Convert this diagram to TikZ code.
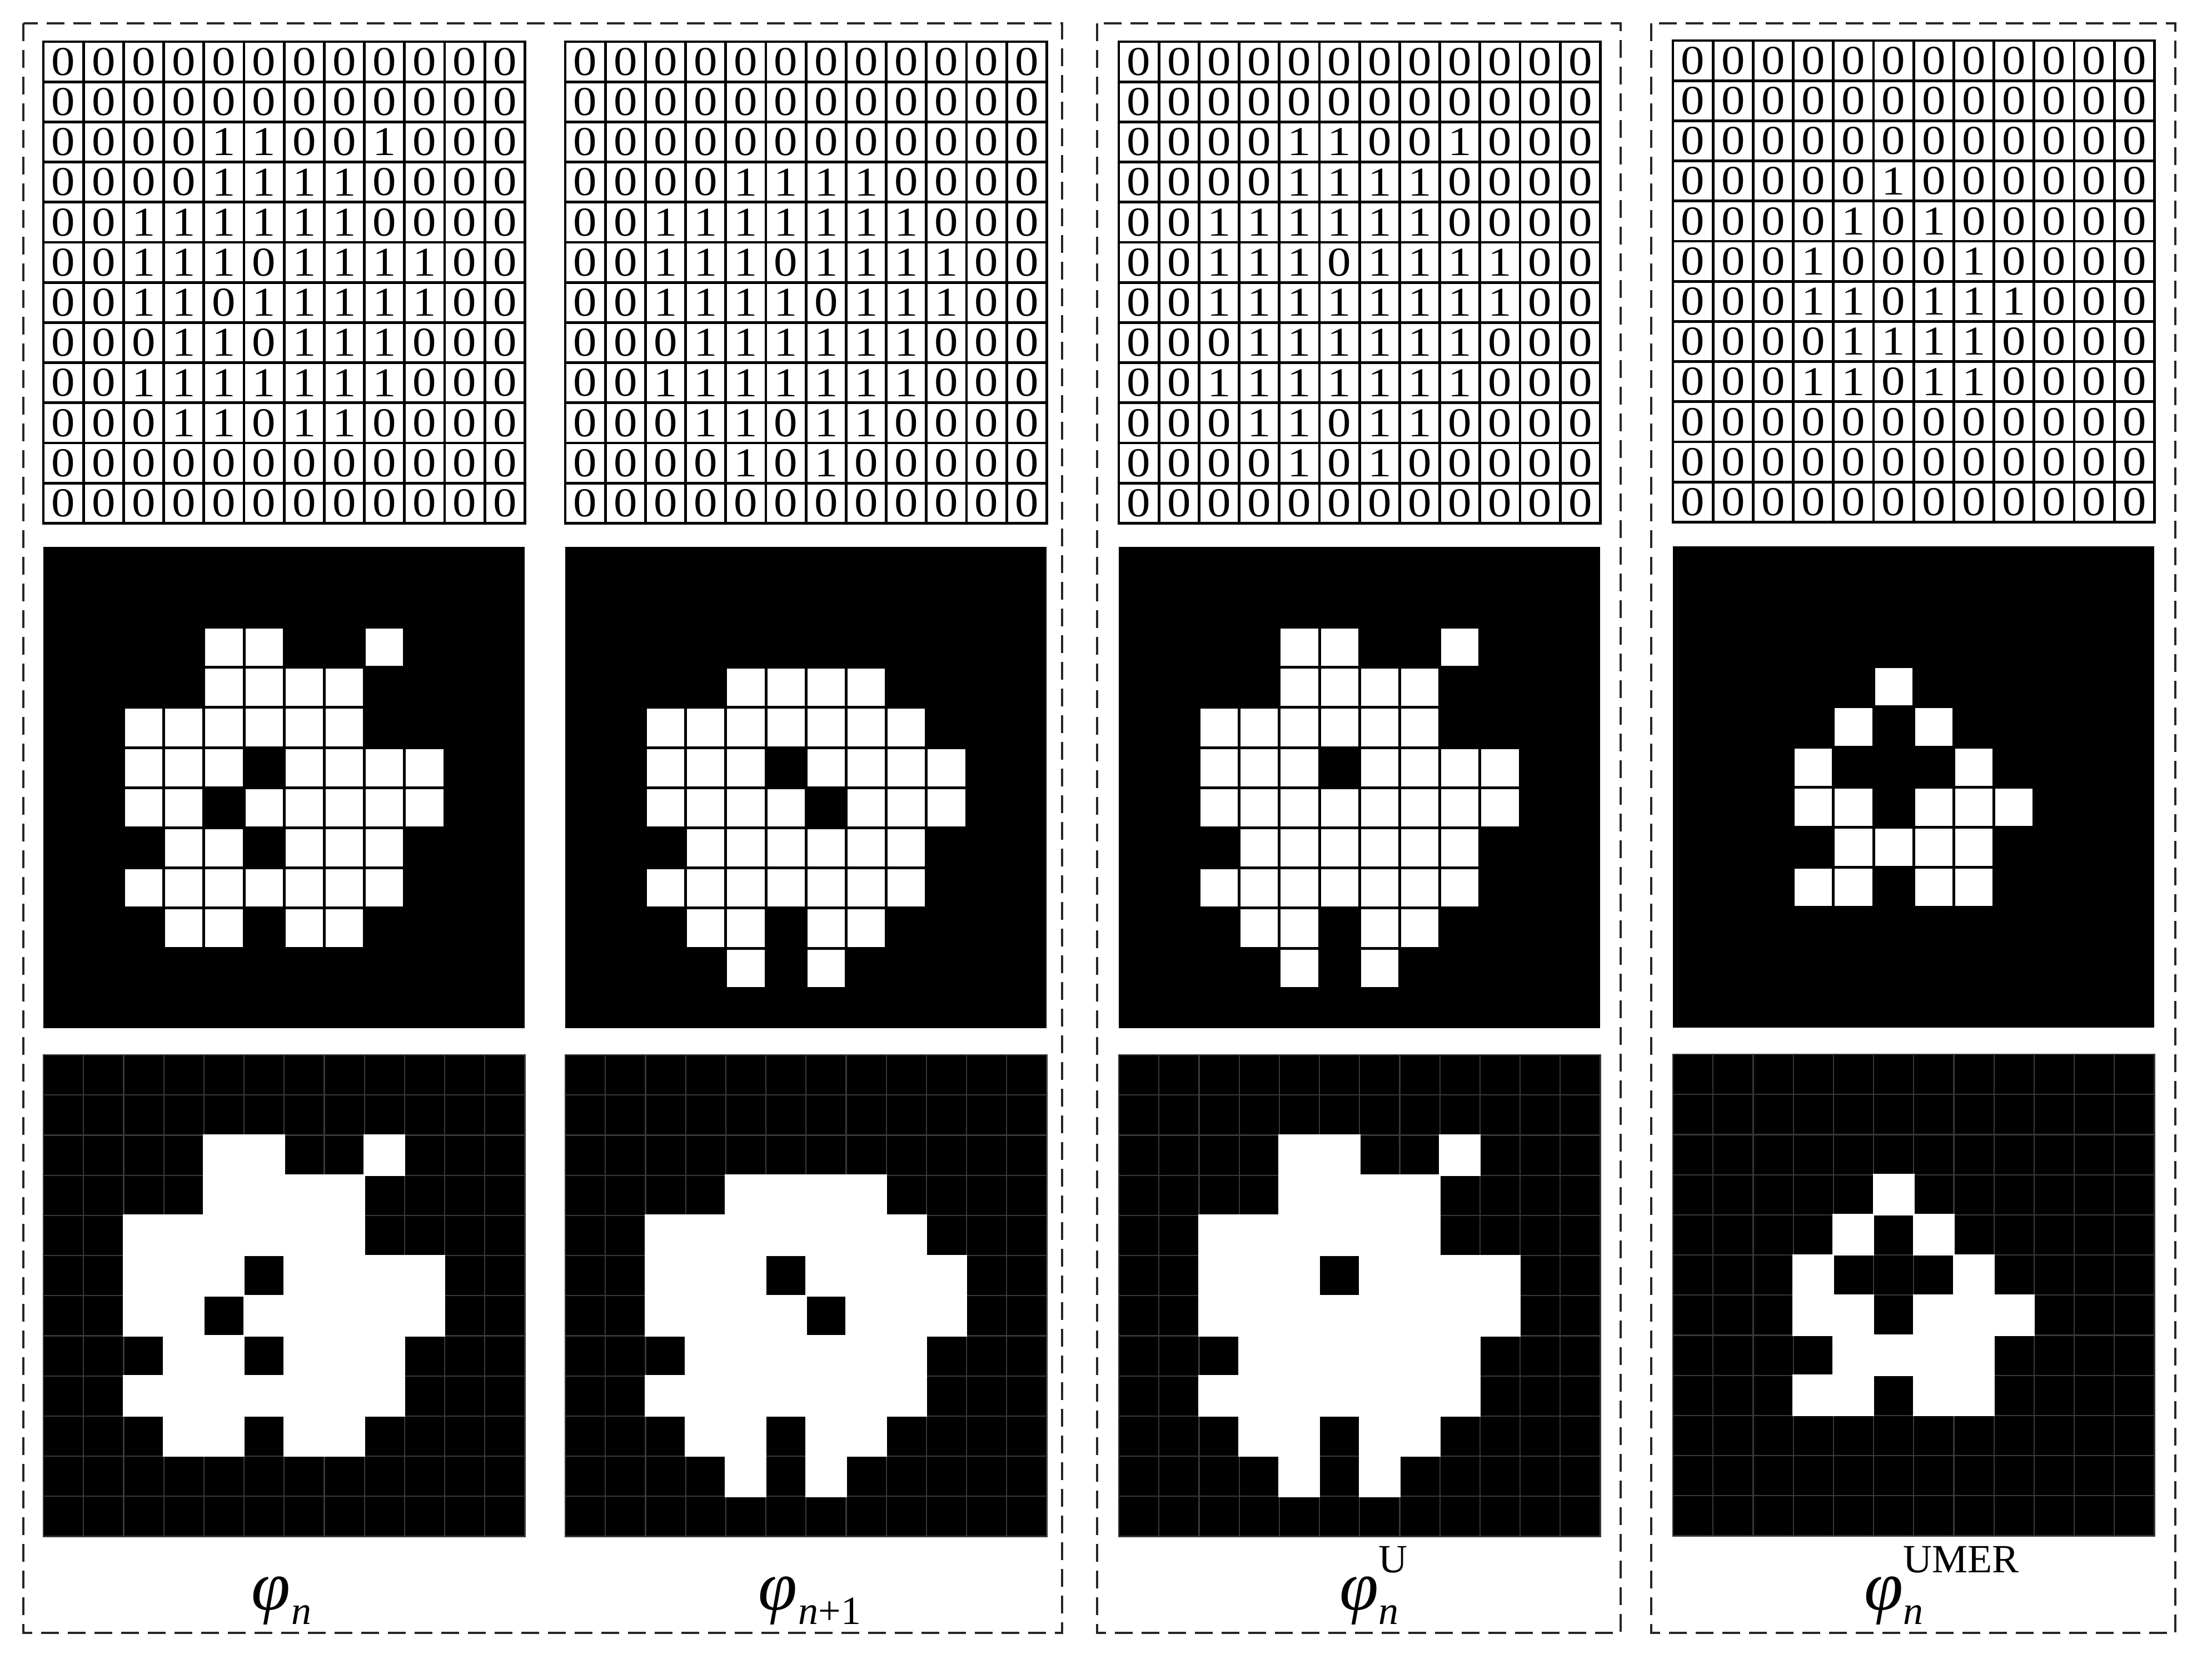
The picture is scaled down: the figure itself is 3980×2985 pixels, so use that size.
\documentclass[tikz,border=0pt]{standalone}
\usepackage{fontspec}
\setmainfont{Liberation Serif}
\tikzset{
  digit/.style={inner sep=0pt, font=\fontsize{21}{22}\selectfont},
  numgrid/.style={line width=0.48mm, black},
  midgrid/.style={line width=0.5mm, black},
  botgrid/.style={line width=0.22mm, black!78},
  dashbox/.style={line width=0.4mm, black!85, dash pattern=on 3.2mm off 1.6mm},
  lab/.style={inner sep=0pt, anchor=base west},
  panelbg/.style={fill=black},
  whitecell/.style={fill=white}
}
\newcommand\phisym{{\fontsize{36}{38}\selectfont\itshape φ}}
\newcommand\subsz{\fontsize{20.5}{22}\selectfont}
\newcommand\dg[1]{\scalebox{1.15}[1.0]{#1}}
% number grid
\newcommand\numpanel[3]{%
  \begin{scope}[shift={#1}, x=7.22mm, y=-7.22mm]
    \foreach \rowdata [count=\r from 0] in #2 {
      \foreach \v [count=\c from 0] in \rowdata {
        \node[digit] (#3-\r-\c) at (\c+0.5,\r+0.5) {\dg{\v}};
      }
    }
    \foreach \i in {1,...,11} {
      \draw[numgrid] (\i,0) -- (\i,12);
      \draw[numgrid] (0,\i) -- (12,\i);
    }
    \draw[numgrid] (0,0) rectangle (12,12);
  \end{scope}}
% white cells with black separators
\newcommand\midpanel[2]{%
  \begin{scope}[shift={#1}, x=7.22mm, y=-7.22mm]
    \fill[panelbg] (0,0) rectangle (12,12);
    \foreach \rowdata [count=\r from 0] in #2 {
      \foreach \v [count=\c from 0] in \rowdata {
        \ifnum\v=1 \fill[whitecell] (\c,\r) rectangle ++(1,1); \fi
      }
    }
    \foreach \i in {1,...,11} {
      \draw[midgrid] (\i,0) -- (\i,12);
      \draw[midgrid] (0,\i) -- (12,\i);
    }
  \end{scope}}
% merged white shape on gridded black
\newcommand\botpanel[2]{%
  \begin{scope}[shift={#1}, x=7.22mm, y=-7.22mm]
    \fill[panelbg] (0,0) rectangle (12,12);
    \foreach \i in {1,...,11} {
      \draw[botgrid] (\i,0) -- (\i,12);
      \draw[botgrid] (0,\i) -- (12,\i);
    }
    \draw[botgrid] (0,0) rectangle (12,12);
    \foreach \rowdata [count=\r from 0] in #2 {
      \foreach \v [count=\c from 0] in \rowdata {
        \ifnum\v=1 \fill[whitecell] (\c-0.02,\r-0.02) rectangle (\c+1.02,\r+1.02); \fi
      }
    }
  \end{scope}}
\def\dataA{{0,0,0,0,0,0,0,0,0,0,0,0},{0,0,0,0,0,0,0,0,0,0,0,0},{0,0,0,0,1,1,0,0,1,0,0,0},{0,0,0,0,1,1,1,1,0,0,0,0},{0,0,1,1,1,1,1,1,0,0,0,0},{0,0,1,1,1,0,1,1,1,1,0,0},{0,0,1,1,0,1,1,1,1,1,0,0},{0,0,0,1,1,0,1,1,1,0,0,0},{0,0,1,1,1,1,1,1,1,0,0,0},{0,0,0,1,1,0,1,1,0,0,0,0},{0,0,0,0,0,0,0,0,0,0,0,0},{0,0,0,0,0,0,0,0,0,0,0,0}}
\def\dataB{{0,0,0,0,0,0,0,0,0,0,0,0},{0,0,0,0,0,0,0,0,0,0,0,0},{0,0,0,0,0,0,0,0,0,0,0,0},{0,0,0,0,1,1,1,1,0,0,0,0},{0,0,1,1,1,1,1,1,1,0,0,0},{0,0,1,1,1,0,1,1,1,1,0,0},{0,0,1,1,1,1,0,1,1,1,0,0},{0,0,0,1,1,1,1,1,1,0,0,0},{0,0,1,1,1,1,1,1,1,0,0,0},{0,0,0,1,1,0,1,1,0,0,0,0},{0,0,0,0,1,0,1,0,0,0,0,0},{0,0,0,0,0,0,0,0,0,0,0,0}}
\def\dataC{{0,0,0,0,0,0,0,0,0,0,0,0},{0,0,0,0,0,0,0,0,0,0,0,0},{0,0,0,0,1,1,0,0,1,0,0,0},{0,0,0,0,1,1,1,1,0,0,0,0},{0,0,1,1,1,1,1,1,0,0,0,0},{0,0,1,1,1,0,1,1,1,1,0,0},{0,0,1,1,1,1,1,1,1,1,0,0},{0,0,0,1,1,1,1,1,1,0,0,0},{0,0,1,1,1,1,1,1,1,0,0,0},{0,0,0,1,1,0,1,1,0,0,0,0},{0,0,0,0,1,0,1,0,0,0,0,0},{0,0,0,0,0,0,0,0,0,0,0,0}}
\def\dataD{{0,0,0,0,0,0,0,0,0,0,0,0},{0,0,0,0,0,0,0,0,0,0,0,0},{0,0,0,0,0,0,0,0,0,0,0,0},{0,0,0,0,0,1,0,0,0,0,0,0},{0,0,0,0,1,0,1,0,0,0,0,0},{0,0,0,1,0,0,0,1,0,0,0,0},{0,0,0,1,1,0,1,1,1,0,0,0},{0,0,0,0,1,1,1,1,0,0,0,0},{0,0,0,1,1,0,1,1,0,0,0,0},{0,0,0,0,0,0,0,0,0,0,0,0},{0,0,0,0,0,0,0,0,0,0,0,0},{0,0,0,0,0,0,0,0,0,0,0,0}}
\begin{document}
\begin{tikzpicture}[x=0.1mm, y=-0.1mm]
  \useasboundingbox (0,0) rectangle (3980,2985);
  % dashed frames
  \draw[dashbox] (42,42) rectangle (1911,2938);
  \draw[dashbox] (1974,42) rectangle (2916,2938);
  \draw[dashbox] (2971,42) rectangle (3914,2938);
  % column 1
  \numpanel{(78,75)}{\dataA}{A}
  \midpanel{(78,984)}{\dataA}
  \botpanel{(78,1898)}{\dataA}
  % column 2
  \numpanel{(1017,75)}{\dataB}{B}
  \midpanel{(1017,984)}{\dataB}
  \botpanel{(1017,1898)}{\dataB}
  % column 3
  \numpanel{(2013,75)}{\dataC}{C}
  \midpanel{(2013,984)}{\dataC}
  \botpanel{(2013,1898)}{\dataC}
  % column 4
  \numpanel{(3010,73)}{\dataD}{D}
  \midpanel{(3010,983)}{\dataD}
  \botpanel{(3010,1897)}{\dataD}
  % labels
  \node[lab] (labA) at (452,2896) {\phisym\kern0.5pt\raisebox{-7.5pt}{\subsz\itshape n}};
  \node[lab] (labB) at (1364,2896) {\phisym\kern0.5pt\raisebox{-7.5pt}{\subsz{\itshape n}+1}};
  \node[lab] (labC) at (2410,2896) {\phisym\rlap{\raisebox{-7.5pt}{\subsz\itshape n}}\raisebox{19pt}{\subsz U}};
  \node[lab] (labD) at (3354,2896) {\phisym\rlap{\raisebox{-7.5pt}{\subsz\itshape n}}\raisebox{19pt}{\subsz UMER}};
\end{tikzpicture}
\end{document}
